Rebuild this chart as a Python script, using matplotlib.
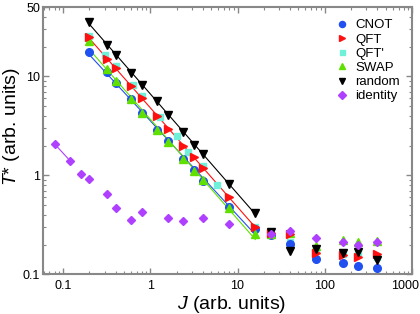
import numpy as np
import matplotlib
matplotlib.use("Agg")
import matplotlib.pyplot as plt
import matplotlib.transforms as mtransforms

plt.rcParams['font.family'] = ['Liberation Sans', 'DejaVu Sans']
plt.rcParams['mathtext.fontset'] = 'custom'
plt.rcParams['mathtext.it'] = 'Liberation Sans:italic'
plt.rcParams['mathtext.rm'] = 'Liberation Sans'

# ---- data ----
J_main = [0.2, 0.32, 0.4, 0.6, 0.8, 1.2, 1.6, 2.4, 3.2, 4, 8, 16]
J_cyan = [0.2, 0.3, 0.4, 0.63, 0.8, 1.3, 2.0, 2.7, 4, 5.8, 16]
J_high = [24, 40, 80, 160, 240, 400]

cnot_low = [17.5, 11.1, 8.5, 5.96, 4.3, 2.9, 2.21, 1.48, 1.12, 0.88, 0.48, 0.29]
qft_low = [24.8, 15.0, 12.1, 8.0, 6.0, 4.0, 2.96, 2.0, 1.52, 1.2, 0.60, 0.30]
qftp_low = [25.5, 16.3, 12.8, 8.1, 6.3, 3.9, 2.49, 1.71, 1.25, 0.80, 0.30]
swap_low = [22.9, 12.0, 9.0, 5.96, 4.3, 2.84, 2.15, 1.45, 1.1, 0.9, 0.47, 0.256]
random_low = [35.7, 21.0, 16.5, 10.9, 8.1, 5.6, 4.1, 2.75, 2.05, 1.63, 0.82, 0.415]

cnot_high = [0.25, 0.203, 0.144, 0.129, 0.121, 0.117]
qft_high = [0.26, 0.256, 0.163, 0.157, 0.151, 0.159]
qftp_high = [0.25, 0.21, 0.175, 0.16, 0.165, 0.15]
swap_high = [0.255, 0.26, 0.194, 0.223, 0.211, 0.215]
random_high = [0.27, 0.173, 0.179, 0.165, 0.169, 0.139]

J_id = [0.08, 0.12, 0.16, 0.2, 0.32, 0.4, 0.6, 0.8, 1.6, 2.4, 4, 8,
        24, 40, 80, 160, 240, 400]
identity = [2.08, 1.41, 1.03, 0.92, 0.65, 0.47, 0.35, 0.425, 0.375, 0.344,
            0.37, 0.32, 0.254, 0.274, 0.235, 0.214, 0.198, 0.211]

labels = ['CNOT', 'QFT', "QFT'", 'SWAP', 'random', 'identity']
colors = ['#2050f0', '#ff1010', '#70f0d8', '#60e000', '#000000', '#b040ff']
markers = ['o', '>', 's', '^', 'v', 'D']
msizes = [5.5, 6, 4.5, 6, 6, 4.5]
zorders = [3.1, 3.3, 3.0, 3.2, 3.4, 3.5]

fig = plt.figure(figsize=(4.2, 3.14), dpi=100)
ax = fig.add_axes([0.1024, 0.1264, 0.8786, 0.8506])
ax.set_xscale('log')
ax.set_yscale('log')

series = [
    (J_main, cnot_low, cnot_high),
    (J_main, qft_low, qft_high),
    (J_cyan, qftp_low, qftp_high),
    (J_main, swap_low, swap_high),
    (J_main, random_low, random_high),
]
for i, (jl, lo, hi) in enumerate(series):
    jl = np.array(jl); lo = np.array(lo)
    p = np.polyfit(np.log10(jl), np.log10(lo), 1)
    xf = np.array([jl.min(), jl.max()])
    if i != 2:
        ax.plot(xf, 10 ** np.polyval(p, np.log10(xf)), '-', color=colors[i],
                lw=0.8, zorder=2)
    xs = list(jl) + J_high
    ys = list(lo) + list(hi)
    ax.plot(xs, ys, linestyle='none', marker=markers[i], color=colors[i],
            ms=msizes[i], mec=colors[i], label=labels[i], zorder=zorders[i])

ax.plot(J_id[:2], identity[:2], '-', color=colors[5], lw=0.8, zorder=2)
ax.plot(J_id, identity, linestyle='none', marker='D', color=colors[5],
        ms=4.5, label=labels[5], zorder=zorders[5])

ax.set_xlim(0.059, 1000)
ax.set_ylim(0.1, 50)
ax.set_xticks([0.1, 1, 10, 100, 1000])
ax.set_xticklabels(['0.1', '1', '10', '100', '1000'])
ax.set_yticks([0.1, 1, 10, 50])
ax.set_yticklabels(['0.1', '1', '10', '50'])
ax.tick_params(which='both', direction='in', top=True, right=True,
               color='#888888', labelsize=9)
ax.tick_params(axis='x', pad=4)
ax.tick_params(axis='y', pad=2)
ax.tick_params(which='major', length=4, width=1)
ax.tick_params(which='minor', length=2, width=0.8)
for s in ax.spines.values():
    s.set_color('#888888')
    s.set_linewidth(1.5)

# shift the last x tick label a bit left so it stays inside the figure
last = ax.get_xticklabels()[-1]
last.set_transform(last.get_transform() +
                   mtransforms.ScaledTranslation(-7 / 100, 0, fig.dpi_scale_trans))

ax.set_xlabel(r'$J$ (arb. units)', fontsize=14)
ax.set_ylabel(r'$T$* (arb. units)', fontsize=14)
ax.xaxis.set_label_coords(0.511, -0.072)
ax.yaxis.set_label_coords(-0.058, 0.555)

handles, labs = ax.get_legend_handles_labels()
leg = ax.legend(handles, labs, loc='upper right', frameon=False, fontsize=9.5,
                handlelength=0.8, handletextpad=0.6, labelspacing=0.15,
                borderaxespad=0.5, markerscale=0.8)

fig.savefig('out.png', dpi=100)
